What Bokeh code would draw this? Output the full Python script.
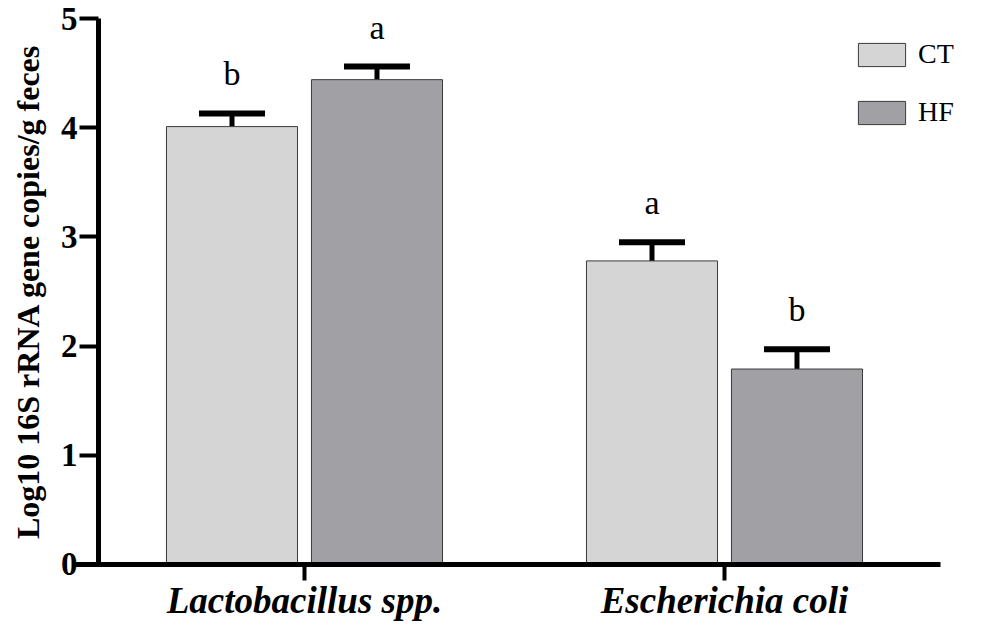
from bokeh.plotting import figure
from bokeh.models import (Range1d, Whisker, TeeHead, ColumnDataSource, Legend,
                          LegendItem, FixedTicker)
from bokeh.core.properties import value
from bokeh.embed import file_html
from bokeh.resources import INLINE

# ---- data ----
categories = ["Lactobacillus spp.", "Escherichia coli"]
groups = ["CT", "HF"]
ct_means = [4.01, 2.78]
hf_means = [4.44, 1.79]
ct_err = [0.12, 0.17]
hf_err = [0.12, 0.18]
ct_letters = ["b", "a"]
hf_letters = ["a", "b"]
y_ticks = [0, 1, 2, 3, 4, 5]

# ---- style ----
SERIF = "Liberation Serif"
CT_COLOR = "#d5d5d5"
HF_COLOR = "#a1a0a5"
OFFSET = 0.1726
BAR_W = 0.312

idx = list(range(len(categories)))

def make_src(means, errs, letters, off):
    return ColumnDataSource(dict(
        x=[i + off for i in idx],
        top=means,
        upper=[m + e for m, e in zip(means, errs)],
        letter=letters,
    ))

src_ct = make_src(ct_means, ct_err, ct_letters, -OFFSET)
src_hf = make_src(hf_means, hf_err, hf_letters, OFFSET)

p = figure(width=972, height=624, output_backend="svg", toolbar_location=None,
           x_range=Range1d(-0.7238, 1.5905), y_range=Range1d(-0.5495, 5.1648),
           min_border_left=0, min_border_right=0, min_border_top=0,
           min_border_bottom=0)
p.outline_line_color = None
p.xgrid.visible = False
p.ygrid.visible = False
p.background_fill_color = "white"
p.border_fill_color = "white"

r_ct = p.vbar(x="x", top="top", width=BAR_W, bottom=0, source=src_ct,
              fill_color=CT_COLOR, line_color="#3a3a3a", line_width=1)
r_hf = p.vbar(x="x", top="top", width=BAR_W, bottom=0, source=src_hf,
              fill_color=HF_COLOR, line_color="#3a3a3a", line_width=1)

for src in (src_ct, src_hf):
    w = Whisker(source=src, base="x", lower="top", upper="upper",
                line_color="black", line_width=5,
                upper_head=TeeHead(size=66, line_width=6, line_color="black"),
                lower_head=None)
    p.add_layout(w)
    p.text(x="x", y="upper", text="letter", source=src,
           text_font=value(SERIF), text_font_size="34px",
           text_align="center", text_baseline="bottom", y_offset=-21,
           text_color="black")

# y axis
ya = p.yaxis[0]
ya.fixed_location = -0.4905
ya.bounds = (0, 5)
ya.ticker = FixedTicker(ticks=y_ticks)
ya.minor_tick_line_color = None
ya.major_tick_in = 0
ya.major_tick_out = 19
ya.major_tick_line_width = 4
ya.axis_line_width = 5
ya.axis_line_color = "black"
ya.major_tick_line_color = "black"
ya.major_label_text_color = "black"
ya.major_label_text_font = SERIF
ya.major_label_text_font_size = "33px"
ya.major_label_text_font_style = "bold"
ya.major_label_standoff = 2
ya.axis_label = "Log10 16S rRNA gene copies/g feces"
ya.axis_label_text_color = "black"
ya.axis_label_text_font = SERIF
ya.axis_label_text_font_size = "32px"
ya.axis_label_text_font_style = "bold"
ya.axis_label_standoff = 12

# x axis
xa = p.xaxis[0]
xa.fixed_location = 0
xa.bounds = (-0.552, 1.514)
xa.ticker = FixedTicker(ticks=idx)
xa.major_label_overrides = {i: c for i, c in zip(idx, categories)}
xa.minor_tick_line_color = None
xa.major_tick_in = 0
xa.major_tick_out = 16
xa.major_tick_line_width = 4
xa.axis_line_width = 5
xa.axis_line_color = "black"
xa.major_tick_line_color = "black"
xa.major_label_text_color = "black"
xa.major_label_text_font = SERIF
xa.major_label_text_font_size = "37px"
xa.major_label_text_font_style = "bold italic"
xa.major_label_standoff = 0

legend = Legend(items=[LegendItem(label=g, renderers=[r])
                       for g, r in zip(groups, [r_ct, r_hf])],
                location=(852, 496), orientation="vertical",
                glyph_width=59, glyph_height=29, label_height=23,
                label_standoff=7, spacing=26, padding=0, margin=0,
                border_line_color=None, background_fill_alpha=0,
                label_text_font=SERIF, label_text_font_size="28px",
                label_text_color="black")
p.add_layout(legend)

open("out.html", "w").write(file_html(p, INLINE))
